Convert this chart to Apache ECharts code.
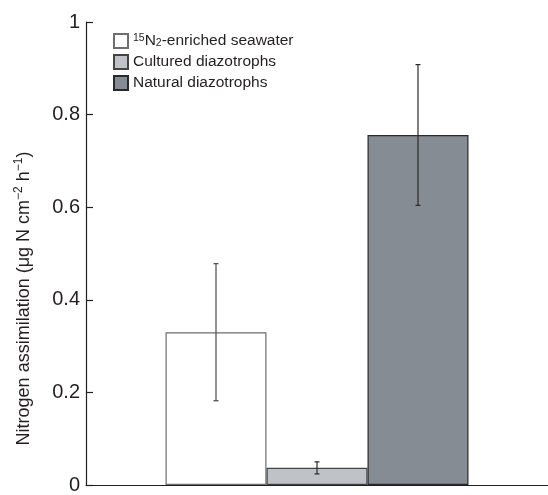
<!DOCTYPE html>
<html><head><meta charset="utf-8">
<script src="https://cdn.jsdelivr.net/npm/echarts@6/dist/echarts.min.js"></script>
<style>html,body{margin:0;padding:0;background:#fff}#c{width:548px;height:495px}</style>
</head><body><div id="c"></div>
<script>
const categories = ['sample'];
const seriesNames = ['15N2-enriched seawater', 'Cultured diazotrophs', 'Natural diazotrophs'];
const means = [0.330, 0.037, 0.756];
const errors = [0.148, 0.013, 0.152];
const colors = ['#ffffff', '#bfc3c8', '#868c93'];
const borders = ['#6e6e6e', '#444444', '#2a2a2a'];
const yTicks = [0, 0.2, 0.4, 0.6, 0.8, 1];

const chart = echarts.init(document.getElementById('c'));
const BW = 101;
const FONT = '"Liberation Sans", Arial, sans-serif';
const ink = '#231f20';

const barSeries = seriesNames.map((n, i) => ({
  name: n, type: 'bar', data: [means[i]], barWidth: BW, barGap: '0%',
  itemStyle: { color: colors[i], borderColor: borders[i], borderWidth: 1.2 },
  z: 2
}));

const errSeries = {
  type: 'custom', z: 5, silent: true,
  data: means.map((m, i) => [0, m, errors[i], i]),
  encode: { x: 0, y: 1 },
  renderItem: function (params, api) {
    const i = api.value(3);
    const m = api.value(1), e = api.value(2);
    const c = api.coord([0, m]);
    const x = c[0] + (i - 1) * BW;
    const yt = api.coord([0, m + e])[1];
    const yb = api.coord([0, m - e])[1];
    const cap = 2.5;
    const st = { stroke: i === 0 ? '#4a4a4a' : '#2a2a2a', lineWidth: 1.2 };
    return { type: 'group', children: [
      { type: 'line', shape: { x1: x, y1: yt, x2: x, y2: yb }, style: st },
      { type: 'line', shape: { x1: x - cap, y1: yt, x2: x + cap, y2: yt }, style: st },
      { type: 'line', shape: { x1: x - cap, y1: yb, x2: x + cap, y2: yb }, style: st }
    ]};
  }
};

chart.setOption({
  animation: false,
  textStyle: { fontFamily: FONT },
  grid: { left: 86, width: 468, top: 22, bottom: 8, containLabel: false },
  legend: {
    orient: 'vertical', left: 108, top: 27,
    itemWidth: 14, itemHeight: 14, itemGap: 5,
    data: seriesNames.map(n => ({ name: n, icon: 'rect' })),
    formatter: function (n) {
      if (n === seriesNames[0]) return '{sup|15}{t|N}{sub|2}{t|-enriched seawater}';
      return '{t|' + n + '}';
    },
    textStyle: {
      color: ink, fontSize: 15.5, fontFamily: FONT,
      rich: {
        t: { fontSize: 15.5, color: ink, fontFamily: FONT, lineHeight: 16 },
        sup: { fontSize: 10.5, color: ink, fontFamily: FONT, verticalAlign: 'top', lineHeight: 16, padding: [0, 0, 5, 0] },
        sub: { fontSize: 10.5, color: ink, fontFamily: FONT, verticalAlign: 'bottom', lineHeight: 16, padding: [6, 0, 0, 0] }
      }
    }
  },
  xAxis: {
    type: 'category', data: categories,
    axisLine: { lineStyle: { color: ink, width: 1.2 } },
    axisTick: { show: false }, axisLabel: { show: false }
  },
  yAxis: {
    type: 'value', min: 0, max: 1, interval: 0.2,
    axisLine: { show: true, lineStyle: { color: ink, width: 1.2 } },
    axisTick: { show: true, inside: true, length: 7, lineStyle: { color: ink, width: 1.2 } },
    splitLine: { show: false },
    axisLabel: {
      color: ink, fontSize: 20, margin: 6, fontFamily: FONT,
      formatter: v => { const t = yTicks.find(k => Math.abs(k - v) < 1e-9); return t === undefined ? '' : String(t); }
    },
    name: '{t|Nitrogen assimilation (\u03bcg N cm}{sup|\u22122}{t| h}{sup|\u22121}{t|)}',
    nameLocation: 'middle', nameGap: 51, nameRotate: 90,
    nameTextStyle: {
      color: ink, fontFamily: FONT, padding: [0, 90, 0, 0],
      rich: {
        t: { fontSize: 18, color: ink, fontFamily: FONT, lineHeight: 22 },
        sup: { fontSize: 12, color: ink, fontFamily: FONT, verticalAlign: 'top', lineHeight: 22, padding: [0, 0, 7, 0] }
      }
    }
  },
  series: barSeries.concat([errSeries])
});
</script></body></html>
